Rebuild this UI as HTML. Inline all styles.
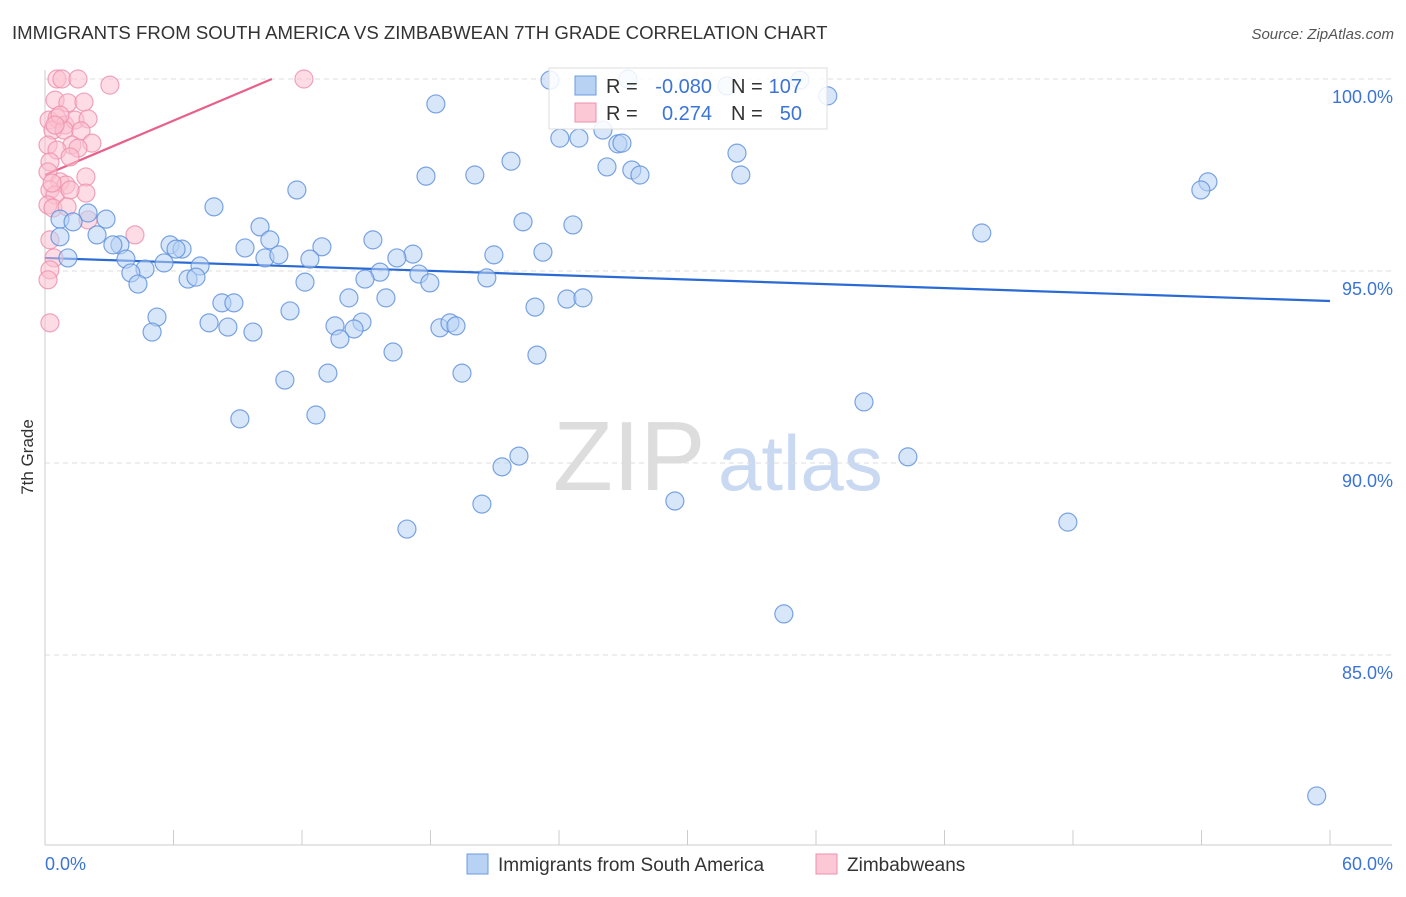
<!DOCTYPE html>
<html><head><meta charset="utf-8"><style>
body{margin:0;background:#fff;font-family:"Liberation Sans",sans-serif}
svg text{font-family:"Liberation Sans",sans-serif}
</style></head><body>
<svg id="chart" width="1406" height="892" xmlns="http://www.w3.org/2000/svg">
<text x="12" y="39" font-size="18.6" fill="#333">IMMIGRANTS FROM SOUTH AMERICA VS ZIMBABWEAN 7TH GRADE CORRELATION CHART</text>
<text x="1394" y="39" font-size="15" fill="#555" font-style="italic" text-anchor="end">Source: ZipAtlas.com</text>
<text transform="translate(33,457) rotate(-90)" font-size="17" fill="#333" text-anchor="middle">7th Grade</text>
<g>
<text x="553" y="490" font-size="98" fill="#ddd" font-family="Liberation Serif,serif">ZIP</text>
<text x="718" y="490" font-size="78" fill="#c9d9f2">atlas</text>
</g>
<g id="grid"></g><g id="axes"></g><g id="trend"></g><g id="pts"></g>
<g>
<rect x="549" y="68" width="278" height="61" fill="#fff" fill-opacity="0.85" stroke="#ddd"/>
<rect x="575" y="76" width="21" height="19" fill="#b8d2f4" stroke="#6a9be0"/>
<rect x="575" y="103" width="21" height="19" fill="#fcc8d6" stroke="#ec8fab"/>
<text x="606" y="93" font-size="20" fill="#333">R =</text>
<text x="712" y="93" font-size="20" fill="#3b74d6" text-anchor="end">-0.080</text>
<text x="731" y="93" font-size="20" fill="#333">N =</text>
<text x="802" y="93" font-size="20" fill="#3b74d6" text-anchor="end">107</text>
<text x="606" y="120" font-size="20" fill="#333">R =</text>
<text x="712" y="120" font-size="20" fill="#3b74d6" text-anchor="end">0.274</text>
<text x="731" y="120" font-size="20" fill="#333">N =</text>
<text x="802" y="120" font-size="20" fill="#3b74d6" text-anchor="end">50</text>
</g>
<g>
<rect x="467" y="854" width="21" height="20" fill="#b8d2f4" stroke="#6a9be0"/>
<text x="498" y="871" font-size="19" fill="#333">Immigrants from South America</text>
<rect x="816" y="854" width="21" height="20" fill="#fcc8d6" stroke="#ec8fab"/>
<text x="847" y="871" font-size="19" fill="#333">Zimbabweans</text>
</g>
</svg>
<script>
const yTicks=[100,95,90,85];
const yTickLabels=["100.0%","95.0%","90.0%","85.0%"];
const xTickLabels=["0.0%","60.0%"];
const blueX=[23.58,27.22,31.84,35.25,36.55,18.25,24.04,24.93,26.05,26.75,26.94,32.31,21.76,26.24,27.40,27.78,32.49,17.79,20.07,54.30,53.97,11.76,7.89,43.74,22.32,24.65,2.01,2.85,0.70,1.31,10.04,10.50,15.31,0.70,2.43,3.50,3.17,5.84,6.40,6.12,9.34,12.93,17.18,20.96,23.25,10.27,10.92,12.37,16.43,1.07,3.78,5.56,7.24,4.67,4.01,15.64,14.94,17.46,17.97,20.63,6.68,7.05,12.14,4.34,14.19,15.92,8.26,8.82,24.37,25.12,22.88,11.44,5.23,7.66,8.54,9.71,5.00,13.54,14.80,14.43,18.44,18.91,19.19,13.77,16.25,22.97,13.21,19.47,11.20,38.24,12.65,9.10,22.13,21.34,40.29,20.40,29.41,16.90,47.76,34.50,59.38];
const blueY=[99.97,100.0,99.82,99.97,99.56,99.35,98.46,98.46,98.67,98.31,98.33,98.07,97.86,97.71,97.63,97.50,97.50,97.47,97.50,97.32,97.11,97.11,96.67,95.99,96.28,96.20,96.51,96.35,96.35,96.28,96.15,95.81,95.81,95.89,95.94,95.68,95.68,95.68,95.57,95.57,95.60,95.63,95.44,95.42,95.49,95.34,95.42,95.31,95.34,95.34,95.31,95.21,95.13,95.05,94.95,94.97,94.79,94.92,94.69,94.82,94.79,94.84,94.71,94.66,94.30,94.30,94.17,94.17,94.27,94.30,94.06,93.96,93.80,93.65,93.54,93.41,93.41,93.57,93.67,93.49,93.52,93.65,93.57,93.23,92.89,92.81,92.34,92.34,92.16,91.59,91.25,91.15,90.18,89.90,90.16,88.93,89.01,88.28,88.46,86.07,81.33];
const pinkX=[0.56,0.79,1.54,3.03,12.09,0.47,1.07,1.82,0.19,0.56,0.93,1.40,2.01,0.37,0.89,1.68,2.19,1.26,0.14,0.56,1.54,1.17,0.23,0.14,0.70,0.98,1.91,1.91,0.23,0.47,1.17,0.14,0.37,1.03,2.01,4.20,0.23,0.42,0.23,0.14,0.23,0.70,0.47,0.33];
const pinkY=[100.0,100.0,100.0,99.84,100.0,99.45,99.38,99.40,98.93,98.98,98.80,98.93,98.96,98.67,98.67,98.65,98.33,98.28,98.28,98.15,98.20,97.97,97.84,97.58,97.32,97.24,97.45,97.03,97.11,96.98,97.11,96.72,96.64,96.67,96.33,95.94,95.81,95.34,95.03,94.77,93.65,99.06,98.80,97.29];
const blueTrend=[95.34,-0.0187];
const pinkTrend=[97.50,0.236];

const NS="http://www.w3.org/2000/svg";
const X0=45,X1=1330,YTOP=79,PXPER=38.4;
const sx=v=>X0+(X1-X0)*v/60;
const sy=v=>YTOP+(100-v)*PXPER;
function mk(tag,attrs,parent){const e=document.createElementNS(NS,tag);for(const k in attrs)e.setAttribute(k,attrs[k]);parent.appendChild(e);return e;}
const grid=document.getElementById('grid'),axes=document.getElementById('axes'),trend=document.getElementById('trend'),pts=document.getElementById('pts');
yTicks.forEach((t,i)=>{
  const l=mk('line',{x1:X0,x2:1392,y1:sy(t),y2:sy(t),stroke:'#ddd','stroke-dasharray':'5,4'},grid);
  
  
  const tx=mk('text',{x:1393,y:sy(t)+24,'font-size':18,fill:'#3b74d6','text-anchor':'end'},grid);
  tx.textContent=yTickLabels[i];
  
  
});
const xa=mk('line',{x1:X0,x2:1392,y1:845,y2:845,stroke:'#ccc'},axes);


const ya=mk('line',{x1:X0,x2:X0,y1:70,y2:845,stroke:'#ccc'},axes);


for(let i=0;i<=10;i++){const t=mk('line',{x1:sx(i*6),x2:sx(i*6),y1:830,y2:845,stroke:'#ccc'},axes);
  
  }
[[0,'start',X0],[60,'end',1393]].forEach((d,i)=>{const t=mk('text',{x:d[2],y:870,'font-size':18,fill:'#3b74d6','text-anchor':d[1]},axes);t.textContent=xTickLabels[i];
  
  });
function drawPts(xs,ys,fill,stroke,name){xs.forEach((x,i)=>{const c=mk('circle',{cx:sx(x),cy:sy(ys[i]),r:9,fill:fill,'fill-opacity':0.55,stroke:stroke,'stroke-opacity':0.8,'stroke-width':1.2},pts);
  
  });}
drawPts(pinkX,pinkY,'#fbbfd0','#ec8fab','zimbabwean-point');
drawPts(blueX,blueY,'#b8d2f4','#5b8fdc','south-america-point');
const bl=mk('line',{x1:sx(0),y1:sy(blueTrend[0]),x2:sx(60),y2:sy(blueTrend[0]+60*blueTrend[1]),stroke:'#2a6ad4','stroke-width':2.2},trend);


const pxEnd=Math.min(60,(100-pinkTrend[0])/pinkTrend[1]);
const pl=mk('line',{x1:sx(0),y1:sy(pinkTrend[0]),x2:sx(pxEnd),y2:sy(pinkTrend[0]+pxEnd*pinkTrend[1]),stroke:'#e8608a','stroke-width':2.2},trend);


</script>
</body></html>
